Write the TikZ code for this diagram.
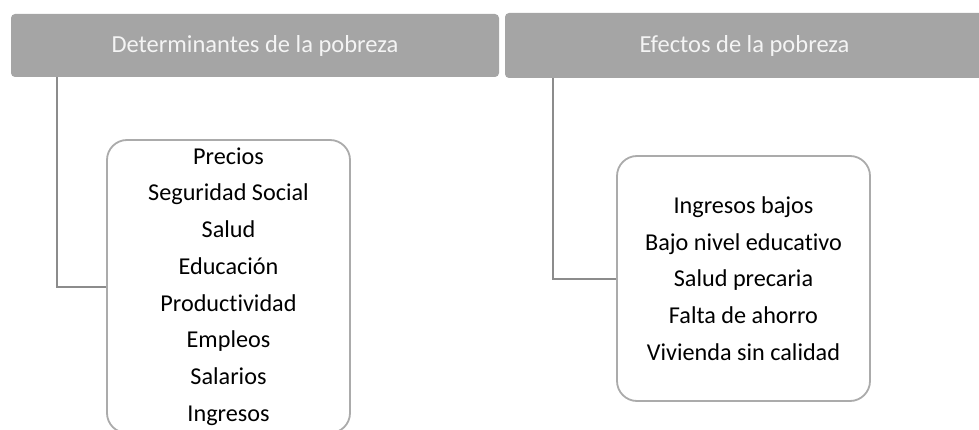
\documentclass[tikz,border=0pt]{standalone}
\usepackage{fontspec}
\setmainfont{Carlito}[Ligatures=NoCommon]
\definecolor{hdrgray}{HTML}{A5A5A5}
\definecolor{conngray}{HTML}{8C8C8C}
\definecolor{boxgray}{HTML}{ABABAB}
\definecolor{hdrtext}{HTML}{F4F4F4}
\begin{document}
\begin{tikzpicture}[x=1pt,y=-1pt,
  header/.style={fill=hdrgray, draw=none, rounded corners=4pt, text=hdrtext,
    font=\fontsize{24.5}{28}\selectfont, inner sep=0pt},
  listbox/.style={draw=boxgray, line width=1.8pt, fill=white, rounded corners=20pt,
    align=center, inner sep=0pt, font=\fontsize{24.2}{36.7}\selectfont},
  conn/.style={draw=conngray, line width=2pt}]
\useasboundingbox (0,0) rectangle (979,430);
\node[header, minimum width=488pt, minimum height=63pt] (hL) at (255,45.5) {Determinantes de la pobreza};
\node[header, minimum width=479pt, minimum height=65pt] (hR) at (744.5,45.5) {Efectos de la pobreza};
\node[listbox, minimum width=243pt, minimum height=293pt] (bL) at (228.5,286.5)
  {Precios\\Seguridad Social\\Salud\\Educación\\Productividad\\Empleos\\Salarios\\Ingresos};
\node[listbox, minimum width=253pt, minimum height=245pt] (bR) at (743.5,278.5)
  {Ingresos bajos\\Bajo nivel educativo\\Salud precaria\\Falta de ahorro\\Vivienda sin calidad};
\draw[conn] ([xshift=46.5pt]hL.south west) |- (bL.west);
\draw[conn] ([xshift=47.7pt]hR.south west) |- (bR.west);
\end{tikzpicture}
\end{document}
